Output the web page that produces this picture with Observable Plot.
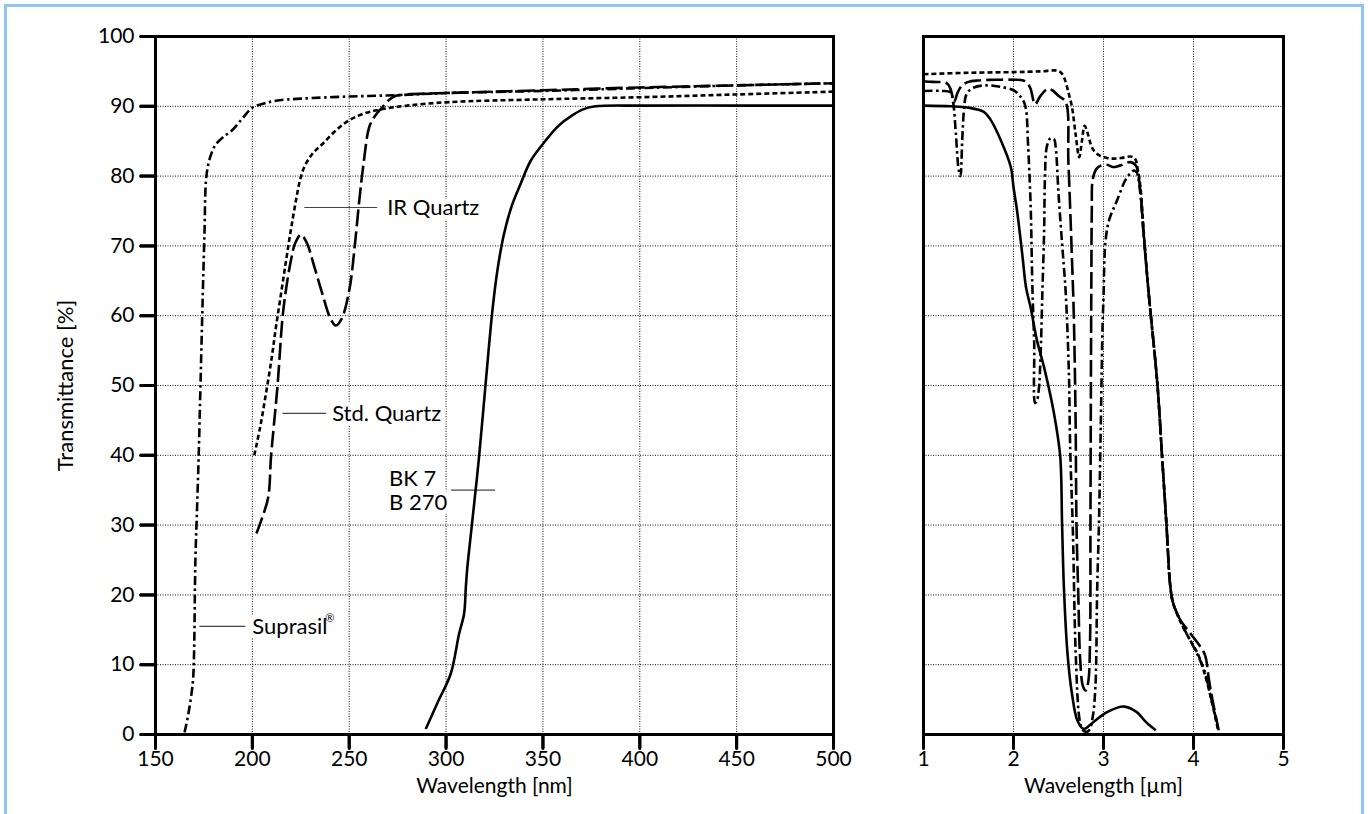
<!DOCTYPE html>
<html><head><meta charset="utf-8">
<script src="https://cdn.jsdelivr.net/npm/d3@7"></script>
<script src="https://cdn.jsdelivr.net/npm/@observablehq/plot@0.6"></script>
<style>
body{margin:0;background:#fff;font-family:Lato, sans-serif;}
#border{position:absolute;left:4px;top:4px;width:1360px;height:840px;border:3px solid #8dc5f4;box-sizing:border-box;z-index:5;pointer-events:none;}
#left{position:absolute;left:0;top:0}
#right{position:absolute;left:870px;top:0}
</style></head><body>
<div id="border"></div><div id="left"></div><div id="right"></div>
<script>
// ---------- data ----------
const uvTicks = [150, 200, 250, 300, 350, 400, 450, 500];
const irTicks = [1, 2, 3, 4, 5];
const pctTicks = [0, 10, 20, 30, 40, 50, 60, 70, 80, 90, 100];

const glasses = ["Suprasil", "IR Quartz", "Std. Quartz", "BK 7"];

// UV range (wavelength nm, transmittance %)
const suprasilUV = [[165,0.3],[167,3],[169.2,7.3],[169.8,10.5],[170.6,25],[171.4,32],[172.3,40],[173.4,52],[174.4,63],[175.3,72],[176.1,79.5],[177.5,82],[179.5,83.7],[181.3,84.6],[185,85.6],[189.7,86.6],[195,88.3],[200,89.8],[206,90.4],[212.2,90.8],[225,91.1],[250,91.4],[275,91.6],[300,91.9],[350,92.2],[400,92.6],[450,93],[500,93.3]];
const irQuartzUV = [[201,40],[204,44],[207,48.8],[210,54],[212.2,58.4],[215,63.5],[217.4,67.9],[220,72.5],[222.5,76.5],[224.5,79.3],[226.8,81.3],[231,83.2],[236.2,84.6],[243,86.5],[250,88],[258,89],[267.2,89.6],[280,90.1],[301.5,90.6],[350,91],[400,91.3],[450,91.7],[500,92.1]];
const stdQuartzUV = [[202.1,28.8],[205,31],[208.2,34],[209.6,39.7],[211,44],[213,50],[215.6,59.8],[217.5,64],[219.9,67.9],[222,70.3],[225.1,71.6],[228,70.5],[232,67],[236.2,63.1],[240,59.8],[243.1,58.6],[246,59.5],[250,63.6],[252.5,69],[255.2,76.5],[257.5,82],[260.3,87],[263,88.5],[267.2,89.9],[271,91],[274.1,91.5],[280,91.7],[300,91.9],[350,92.3],[400,92.7],[450,93],[500,93.3]];
const bk7UV = [[289.5,0.8],[296,4.8],[302.4,8.7],[306.7,14.4],[309.3,17.3],[310.2,21.1],[311,24],[313.2,29.7],[317,39.7],[320.5,50.5],[323.9,60.7],[326.5,66.5],[329.9,71.7],[334,75.8],[338.5,78.9],[343.7,82.2],[351.4,85.1],[358,87.2],[365.1,88.7],[371,89.6],[377.2,90],[400,90.1],[450,90.1],[500,90.1]];

// IR range (wavelength µm, transmittance %)
const suprasilIR = [[1.0,92.2],[1.2,92.2],[1.3,92.0],[1.33,90.5],[1.36,86],[1.39,81],[1.41,80],[1.43,85],[1.45,89.5],[1.48,91.8],[1.56,92.7],[1.71,93.0],[1.85,92.8],[2.0,92.3],[2.07,91.5],[2.11,90.8],[2.14,89.5],[2.16,85],[2.19,76],[2.21,64],[2.23,56],[2.24,47.5],[2.26,47.8],[2.28,49.3],[2.3,54],[2.32,63],[2.34,72],[2.35,80],[2.37,84.2],[2.41,85.4],[2.45,85.3],[2.47,84],[2.5,77.5],[2.54,70.3],[2.58,63.3],[2.615,52],[2.63,41],[2.66,29],[2.69,12],[2.73,2.5],[2.76,0.8],[2.8,0.4],[2.84,0.6],[2.88,2.5],[2.91,6.8],[2.93,21],[2.95,30.5],[2.97,44.5],[2.99,58.8],[3.0,62.5],[3.02,70.3],[3.06,73.6],[3.15,76.5],[3.26,79.8],[3.34,80.8],[3.37,80.5],[3.4,78.5],[3.45,71],[3.5,63.5],[3.6,50],[3.65,40],[3.7,30],[3.74,21.5],[3.77,19],[3.83,17],[3.89,15.3],[4.0,12.6],[4.06,11],[4.12,9.2],[4.2,5],[4.28,0.6]];
const irQuartzIR = [[1.0,94.6],[1.5,94.8],[2.0,94.9],[2.3,95.0],[2.49,95.1],[2.53,94.8],[2.56,94.2],[2.6,92.5],[2.62,91.5],[2.65,89.9],[2.69,86],[2.73,82.7],[2.76,85],[2.79,87.2],[2.82,86.3],[2.86,84.5],[2.89,83.7],[2.95,83],[3.04,82.6],[3.11,82.5],[3.2,82.6],[3.3,82.8],[3.35,82.5],[3.38,81],[3.41,78.5],[3.45,71.5],[3.5,63.5],[3.6,50],[3.65,40],[3.7,30],[3.74,21.5],[3.77,19],[3.86,16],[3.95,13.8],[4.05,11.5],[4.15,7.5],[4.27,0.8]];
const stdQuartzIR = [[1.0,93.6],[1.1,93.5],[1.26,93.3],[1.3,92.5],[1.34,90.6],[1.38,92],[1.43,93],[1.5,93.5],[1.6,93.7],[1.8,93.8],[2.0,93.8],[2.11,93.7],[2.16,93.2],[2.19,92.5],[2.24,90.3],[2.3,91.5],[2.38,92.5],[2.43,92.3],[2.5,91.5],[2.58,90.6],[2.61,82],[2.65,68],[2.67,60],[2.69,45],[2.7,30],[2.72,20],[2.74,11],[2.77,7],[2.8,6.3],[2.83,7.5],[2.85,13],[2.855,30],[2.86,50],[2.865,65],[2.87,75],[2.88,79.5],[2.92,81],[2.97,81.5],[3.05,81.6],[3.1,81.3],[3.18,81.5],[3.3,82],[3.36,81.5],[3.4,79],[3.45,71],[3.5,63.5],[3.6,50],[3.65,40],[3.7,30],[3.74,21.5],[3.77,19],[3.85,16.5],[3.97,14.4],[4.08,12.5],[4.13,11.3],[4.17,8],[4.21,5],[4.28,0.6]];
const bk7IR = [[1.0,90.1],[1.3,90.0],[1.5,89.8],[1.67,89.2],[1.74,88.2],[1.86,85.1],[1.97,81.3],[2.0,78.4],[2.04,75],[2.1,68.5],[2.14,64],[2.19,61.2],[2.26,56.5],[2.34,52.6],[2.42,48],[2.47,44.5],[2.52,39.7],[2.54,30],[2.56,21.1],[2.6,11.6],[2.65,5.8],[2.71,2],[2.78,0.8],[2.89,1.8],[3.04,3.2],[3.23,4.0],[3.37,3.2],[3.47,1.8],[3.58,0.6]];

// annotation labels (in UV data units)
const labelText = ["IR Quartz", "Std. Quartz", "BK 7\nB 270", "Suprasil"];
const labelX = [269.6, 241.2, 270.6, 200];
const labelY = [75.5, 46, 35, 15.5];
const leaderX1 = [226.8, 215.5, 302.6, 172.7];
const leaderX2 = [264.4, 238.1, 325.3, 196.4];

// ---------- styles ----------
const dash = {"Suprasil": "9,3.5,2.5,3.5", "IR Quartz": "5,3", "Std. Quartz": "17,5", "BK 7": null};
const FONT = "Lato, 'Open Sans', sans-serif";
const gridStyle = {stroke: "#111", strokeWidth: 1, strokeOpacity: 1, strokeDasharray: "1,1.5"};

const toRows = (arr) => arr.map(([x, y]) => ({x, y}));
const uvSeries = {"Suprasil": suprasilUV, "IR Quartz": irQuartzUV, "Std. Quartz": stdQuartzUV, "BK 7": bk7UV};
const irSeries = {"Suprasil": suprasilIR, "IR Quartz": irQuartzIR, "Std. Quartz": stdQuartzIR, "BK 7": bk7IR};

const lines = (series) => glasses.map(g => Plot.line(toRows(series[g]), {
  x: "x", y: "y", stroke: "black", strokeWidth: 2.6, curve: "catmull-rom",
  strokeDasharray: dash[g] || undefined, strokeLinecap: "butt"
}));

const labels = labelText.map((t, i) => ({t, x: labelX[i], y: labelY[i], x1: leaderX1[i], x2: leaderX2[i]}));

// outward tick marks as two-point line segments just outside the frame
const xTickRows = (ticks, below) => ticks.flatMap(t => [{t, x: t, y: 0}, {t, x: t, y: below}]);
const yTickRows = (ticks, xa, xb) => ticks.flatMap(t => [{t, x: xa, y: t}, {t, x: xb, y: t}]);
const tickLine = (rows) => Plot.line(rows, {x: "x", y: "y", z: "t", stroke: "black", strokeWidth: 3, clip: false});

const left = Plot.plot({
  width: 860, height: 800,
  marginLeft: 155, marginRight: 27, marginTop: 36, marginBottom: 66,
  x: {domain: [150, 500], axis: null},
  y: {domain: [0, 100], axis: null},
  style: {fontFamily: FONT, background: "transparent", color: "black", overflow: "visible"},
  marks: [
    Plot.gridX(uvTicks.slice(1, -1), gridStyle),
    Plot.gridY(pctTicks.slice(1, -1), gridStyle),
    Plot.text(labels, {x: "x", y: "y", text: "t", textAnchor: "start", fontSize: 22, lineHeight: 1.1, fill: "black", stroke: "white", strokeWidth: 10}),
    Plot.text(labels.filter(d => d.t === "Suprasil"), {x: "x", y: "y", text: () => "®", textAnchor: "start", dx: 73, dy: -8, fontSize: 11, fill: "black"}),
    Plot.link(labels, {x1: "x1", x2: "x2", y1: "y", y2: "y", stroke: "#444", strokeWidth: 1.2}),
    ...lines(uvSeries),
    Plot.frame({strokeWidth: 3}),
    tickLine(xTickRows(uvTicks, -2)),
    tickLine(yTickRows(pctTicks, 150, 142.3)),
    Plot.axisX(uvTicks, {tickSize: 14, tickPadding: 3, stroke: "black", strokeWidth: 3, fontSize: 21, label: null}),
    Plot.axisY(pctTicks, {tickSize: 15, tickPadding: 6, stroke: "black", strokeWidth: 3, fontSize: 21, label: null}),
    Plot.text(["Wavelength [nm]"], {frameAnchor: "bottom", lineAnchor: "middle", dy: 52, fontSize: 21, fill: "black"}),
    Plot.text(["Transmittance [%]"], {frameAnchor: "left", textAnchor: "middle", lineAnchor: "middle", rotate: -90, dx: -90, fontSize: 22, fill: "black"})
  ]
});
document.getElementById("left").append(left);

const right = Plot.plot({
  width: 440, height: 800,
  marginLeft: 53, marginRight: 27, marginTop: 36, marginBottom: 66,
  x: {domain: [1, 5], axis: null},
  y: {domain: [0, 100], axis: null},
  style: {fontFamily: FONT, background: "transparent", color: "black", overflow: "visible"},
  marks: [
    Plot.gridX(irTicks.slice(1, -1), gridStyle),
    Plot.gridY(pctTicks.slice(1, -1), gridStyle),
    ...lines(irSeries),
    Plot.frame({strokeWidth: 3}),
    tickLine(xTickRows(irTicks, -2)),
    Plot.axisX(irTicks, {tickSize: 14, tickPadding: 3, stroke: "black", strokeWidth: 3, fontSize: 21, label: null}),
    Plot.text(["Wavelength [µm]"], {frameAnchor: "bottom", lineAnchor: "middle", dy: 52, fontSize: 21, fill: "black"})
  ]
});
document.getElementById("right").append(right);
</script>
</body></html>
